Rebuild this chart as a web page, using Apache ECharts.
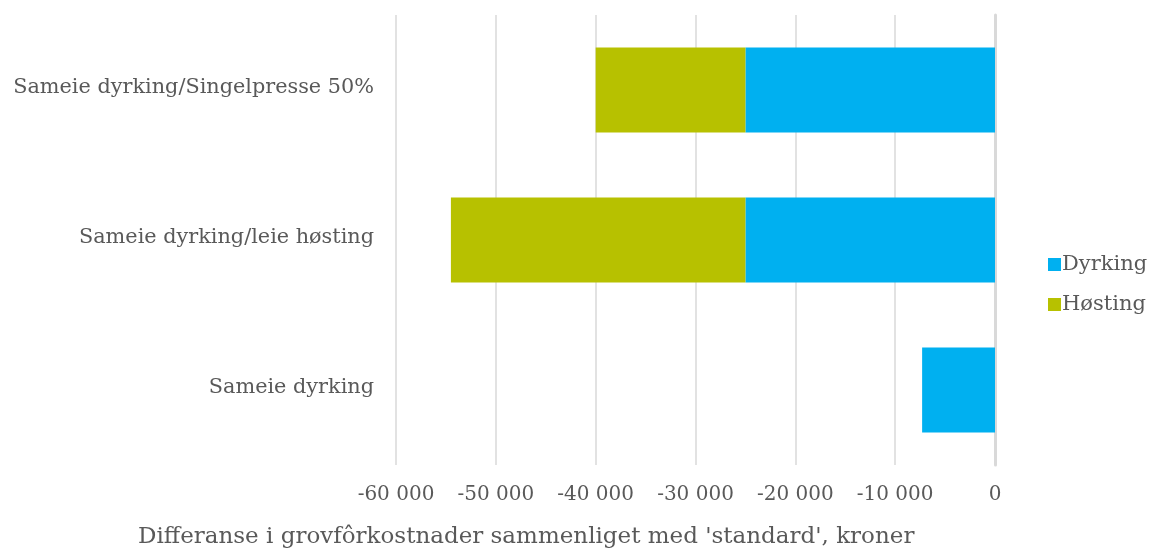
<!DOCTYPE html>
<html><head><meta charset="utf-8">
<script src="https://cdn.jsdelivr.net/npm/echarts@6/dist/echarts.min.js"></script>
<style>html,body{margin:0;padding:0;background:#fff}#c{width:1150px;height:549px}</style>
</head><body><div id="c"></div>
<script>
const categories = ['Sameie dyrking', 'Sameie dyrking/leie høsting', 'Sameie dyrking/Singelpresse 50%'];
const dyrking = [-7300, -25000, -25000];
const hosting = [0, -29500, -15000];
const xTicks = [-60000, -50000, -40000, -30000, -20000, -10000, 0];
const axisTitle = "Differanse i grovfôrkostnader sammenliget med 'standard', kroner";

const font = 'DejaVu Serif';
const chart = echarts.init(document.getElementById('c'));
chart.setOption({
  animation: false,
  textStyle: {fontFamily: font, color: '#595959'},
  title: {text: axisTitle, left: 133, top: 521, textStyle: {fontFamily: font, fontSize: 23, fontWeight: 'normal', color: '#595959'}},
  legend: {orient: 'vertical', left: 1043, top: 249, itemWidth: 13, itemHeight: 13, itemGap: 19, icon: 'rect',
    textStyle: {fontFamily: font, fontSize: 21, color: '#595959', padding: [0,0,0,-4]},
    data: ['Dyrking', 'Høsting']},
  grid: {left: 396, right: 155, top: 15, bottom: 84, containLabel: false},
  xAxis: {type: 'value', min: xTicks[0], max: xTicks[xTicks.length-1], interval: 10000,
    axisLine: {show: false}, axisTick: {show: false},
    splitLine: {lineStyle: {color: '#d9d9d9', width: 1.5}},
    axisLabel: {fontFamily: font, fontSize: 20, color: '#595959', margin: 20,
      formatter: v => v === 0 ? '0' : ('-' + Math.abs(v).toLocaleString('en-US').replace(/,/g, ' '))}},
  yAxis: {type: 'category', data: categories,
    axisLine: {show: true, onZero: false, lineStyle: {color: '#d9d9d9', width: 3}}, axisTick: {show: false},
    position: 'right',
    axisLabel: {show: false}},
  series: [
    {name: 'Dyrking', type: 'bar', stack: 's', data: dyrking, barWidth: 85, itemStyle: {color: '#00B0F0'}},
    {name: 'Høsting', type: 'bar', stack: 's', data: hosting, barWidth: 85, itemStyle: {color: '#B7C100'}}
  ],
  graphic: categories.map((c, i) => ({
    type: 'text', right: 1150 - 374, top: [377, 227, 77][i],
    style: {text: c, fontFamily: font, fontSize: 20.8, fill: '#595959', textAlign: 'right'}
  }))
});
</script></body></html>
